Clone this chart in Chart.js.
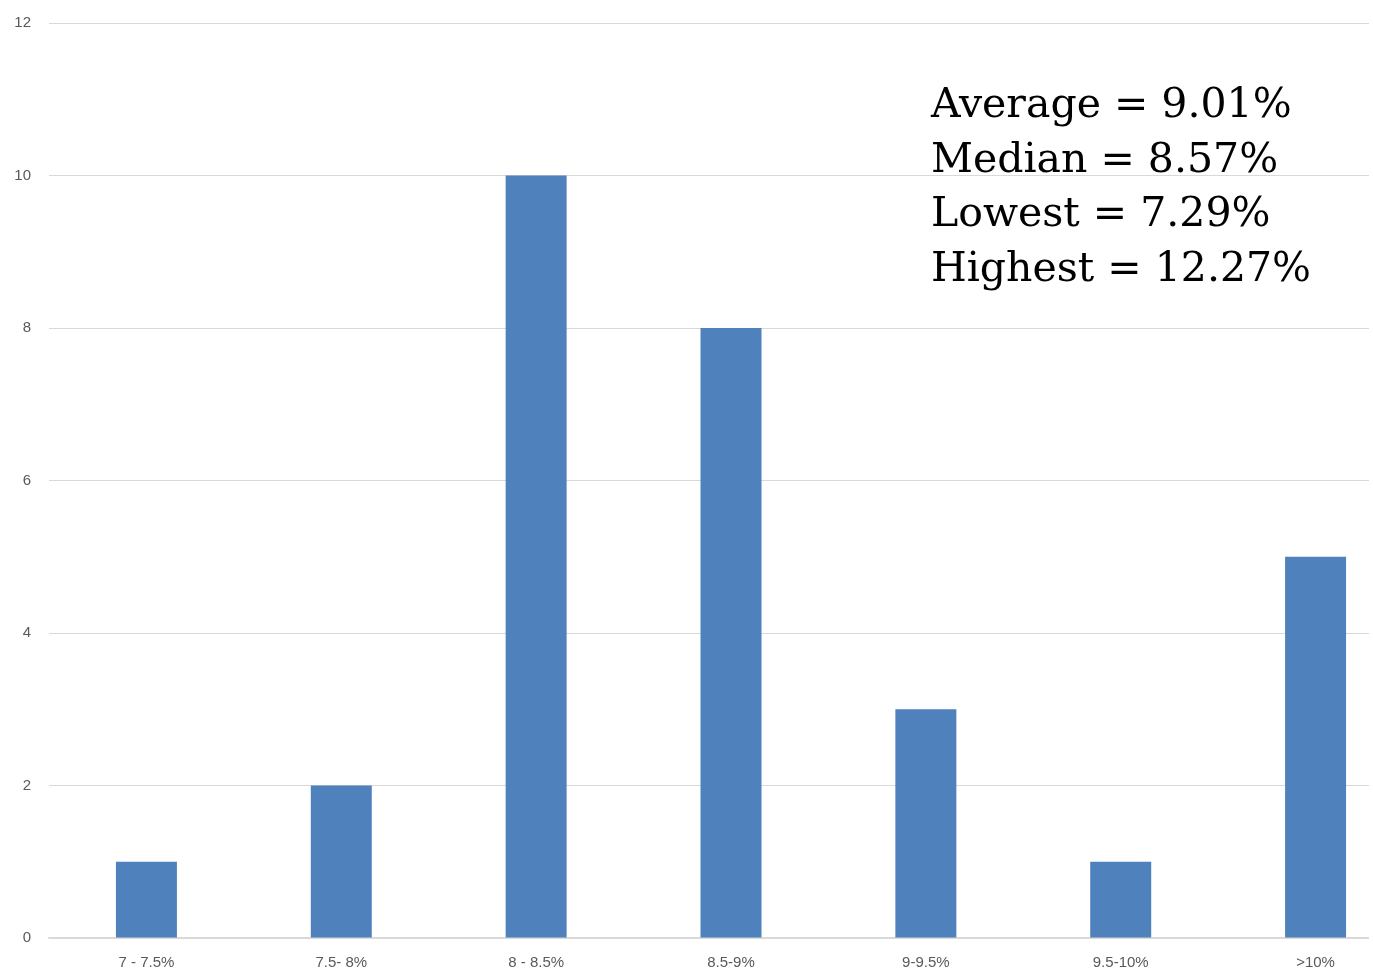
<!DOCTYPE html>
<html>
<head>
<meta charset="utf-8">
<script src="https://cdn.jsdelivr.net/npm/chart.js@4/dist/chart.umd.min.js"></script>
<style>
  html, body { margin: 0; padding: 0; background: #fff; overflow: hidden; }
  #wrap { width: 1369px; height: 980px; overflow: hidden; }
</style>
</head>
<body>
<div id="wrap"><canvas id="c" width="1413" height="980"></canvas></div>
<script>
// Rate buckets and how many fall into each
const categories = ['7 - 7.5%', '7.5- 8%', '8 - 8.5%', '8.5-9%', '9-9.5%', '9.5-10%', '>10%'];
const counts = [1, 2, 10, 8, 3, 1, 5];
const yTicks = [0, 2, 4, 6, 8, 10, 12];
const statsLines = ['Average = 9.01%', 'Median = 8.57%', 'Lowest = 7.29%', 'Highest = 12.27%'];

// Summary text block drawn on top of the plot
const statsPlugin = {
  id: 'stats',
  afterDraw(chart) {
    const ctx = chart.ctx;
    ctx.save();
    ctx.fillStyle = '#000';
    ctx.font = '41px "DejaVu Serif"';
    ctx.textBaseline = 'alphabetic';
    ctx.textAlign = 'left';
    statsLines.forEach((t, i) => ctx.fillText(t, 931, 117 + i * 54.5));
    ctx.restore();
  }
};

new Chart(document.getElementById('c'), {
  type: 'bar',
  data: {
    labels: categories,
    datasets: [{
      data: counts,
      backgroundColor: '#4f81bd',
      borderWidth: 0,
      barPercentage: 0.313,
      categoryPercentage: 1
    }]
  },
  options: {
    responsive: false,
    animation: false,
    layout: { padding: { top: 23, left: 0, right: 0, bottom: 0 } },
    plugins: { legend: { display: false }, tooltip: { enabled: false } },
    scales: {
      x: {
        grid: { display: false, drawTicks: false },
        border: { display: true, color: '#d9d9d9', width: 1.5 },
        ticks: { color: '#595959', font: { family: 'Liberation Sans', size: 15 }, padding: 16, maxRotation: 0 },
        afterFit(s) { s.height = 42; s.paddingLeft = 0; s.paddingRight = 0; }
      },
      y: {
        min: 0, max: 12,
        afterBuildTicks(s) { s.ticks = yTicks.map(v => ({ value: v })); },
        grid: { color: '#d9d9d9', lineWidth: 1, drawTicks: false },
        border: { display: false },
        ticks: { color: '#595959', font: { family: 'Liberation Sans', size: 15 }, padding: 18 },
        afterFit(s) { s.width = 49; s.paddingTop = 0; s.paddingBottom = 0; }
      }
    }
  },
  plugins: [statsPlugin]
});
</script>
</body>
</html>
